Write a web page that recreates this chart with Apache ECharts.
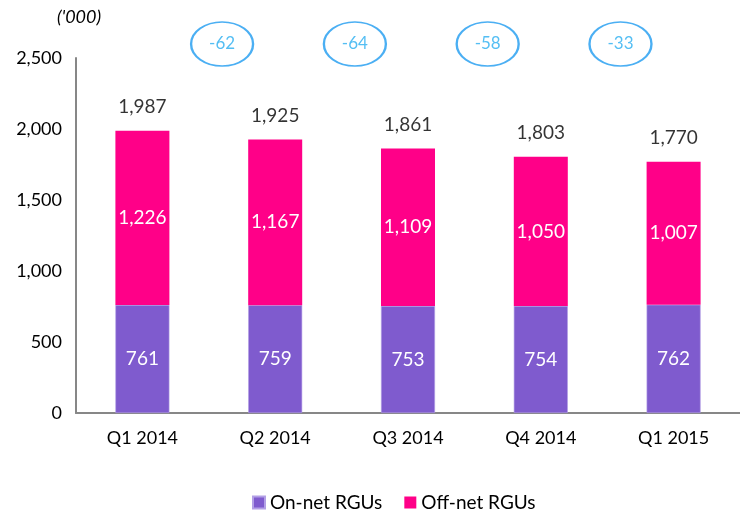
<!DOCTYPE html>
<html>
<head>
<meta charset="utf-8">
<script src="https://cdn.jsdelivr.net/npm/echarts@6/dist/echarts.min.js"></script>
<style>
  html, body { margin: 0; padding: 0; background: #fff; }
  #chart { width: 740px; height: 516px; }
</style>
</head>
<body>
<div id="chart"></div>
<script>
const quarters = ['Q1 2014', 'Q2 2014', 'Q3 2014', 'Q4 2014', 'Q1 2015'];
const onNet = [761, 759, 753, 754, 762];
const offNet = [1226, 1167, 1109, 1050, 1007];
const totals = [1987, 1925, 1861, 1803, 1770];
const changes = [-62, -64, -58, -33];

const font = 'Lato, "Open Sans", sans-serif';
const fmt = v => Number(v).toLocaleString('en-US');

// ellipse outline, stretched by symbolSize
const ellipse = 'path://M0,50 A50,50 0 1,1 100,50 A50,50 0 1,1 0,50 Z';

const option = {
  animation: false,
  textStyle: { fontFamily: font },
  title: {
    text: "('000)",
    left: 52,
    top: 3,
    textStyle: { fontFamily: font, fontSize: 18, fontStyle: 'italic', fontWeight: 'normal', color: '#000' }
  },
  legend: {
    bottom: 4,
    left: 252,
    padding: 0,
    icon: 'rect',
    itemWidth: 12,
    itemHeight: 12,
    itemGap: 22,
    textStyle: { fontFamily: font, fontSize: 19, color: '#000' },
    data: ['On-net RGUs', 'Off-net RGUs']
  },
  grid: [
    { left: 76, width: 670, top: 58, bottom: 103 },
    { left: 76, width: 670, top: 22, height: 44 }
  ],
  xAxis: [
    {
      type: 'category',
      data: quarters,
      gridIndex: 0,
      axisLine: { lineStyle: { color: '#878787', width: 2 } },
      axisTick: { show: false },
      axisLabel: { color: '#000', fontSize: 18, margin: 16, fontFamily: font }
    },
    { type: 'value', gridIndex: 1, min: -0.5, max: 4.5, show: false }
  ],
  yAxis: [
    {
      type: 'value',
      gridIndex: 0,
      min: 0,
      max: 2500,
      interval: 500,
      splitLine: { show: false },
      axisLine: { show: true, lineStyle: { color: '#878787', width: 2 } },
      axisTick: { show: false },
      axisLabel: { color: '#000', fontSize: 18, margin: 14, fontFamily: font, formatter: fmt }
    },
    { type: 'value', gridIndex: 1, min: 0, max: 1, show: false }
  ],
  series: [
    {
      name: 'On-net RGUs',
      type: 'bar',
      stack: 'rgu',
      barWidth: 54,
      data: onNet,
      itemStyle: { color: '#7f5bce', borderColor: '#b3a0e6', borderWidth: 0.6 },
      label: { show: true, position: 'inside', color: '#fff', fontSize: 19, fontFamily: font, formatter: p => fmt(p.value) }
    },
    {
      name: 'Off-net RGUs',
      type: 'bar',
      stack: 'rgu',
      barWidth: 54,
      data: offNet,
      itemStyle: { color: '#ff0088' },
      label: { show: true, position: 'inside', color: '#fff', fontSize: 19, fontFamily: font, formatter: p => fmt(p.value) }
    },
    {
      name: 'Total',
      type: 'scatter',
      data: totals,
      symbolSize: 1,
      itemStyle: { color: 'rgba(0,0,0,0)' },
      silent: true,
      label: { show: true, position: 'top', distance: 14, color: '#000', fontSize: 19, fontFamily: font, formatter: p => fmt(p.value) }
    },
    {
      name: 'Change',
      type: 'scatter',
      xAxisIndex: 1,
      yAxisIndex: 1,
      data: changes.map((v, i) => [i + 0.6, 0.5, v]),
      symbol: ellipse,
      symbolSize: [62, 44],
      itemStyle: { color: 'rgba(255,255,255,0)', borderColor: '#1e9bf0', borderWidth: 2 },
      silent: true,
      label: { show: true, position: 'inside', color: '#29aef0', fontSize: 17, fontFamily: font, formatter: p => p.value[2] }
    }
  ]
};

const chart = echarts.init(document.getElementById('chart'));
chart.setOption(option);
</script>
</body>
</html>
